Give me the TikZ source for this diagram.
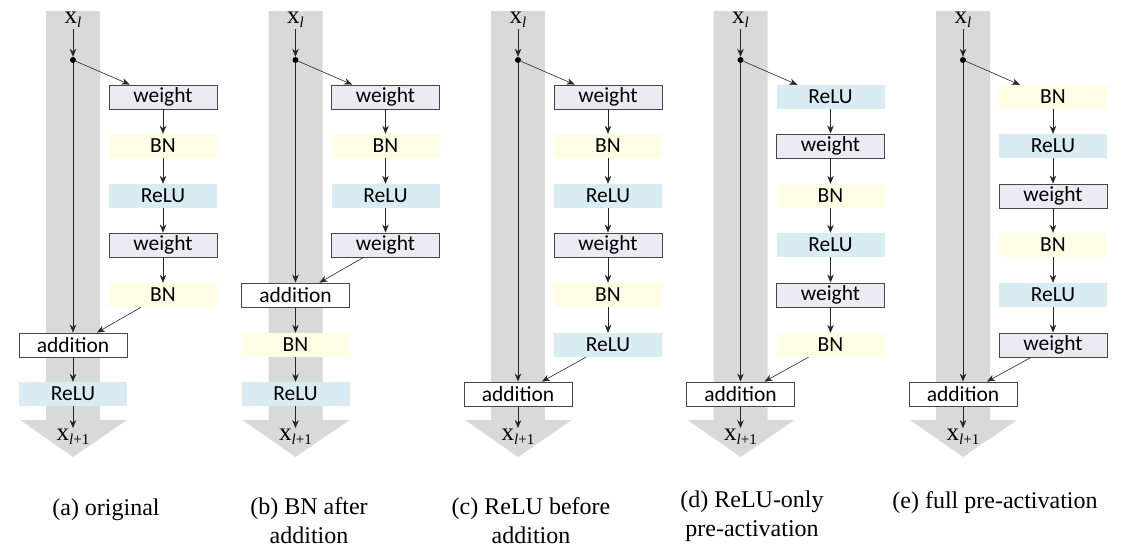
\documentclass[tikz,border=0pt]{standalone}
\usepackage{fontspec}
\setmainfont{Liberation Serif}
\newfontfamily\carlitofam{Carlito}
\usetikzlibrary{arrows.meta,calc}
\definecolor{bandcol}{RGB}{217,217,217}
\definecolor{wfill}{RGB}{236,234,242}
\definecolor{bnfill}{RGB}{255,253,228}
\definecolor{relufill}{RGB}{218,236,243}
\definecolor{edgecol}{RGB}{70,70,70}
\newcommand\boxfont{\carlitofam\fontsize{21.5}{23}\selectfont}
\newcommand\xl{{\fontsize{25}{25}\selectfont x\raisebox{-4pt}{\fontsize{15}{15}\selectfont\itshape l}}}
\newcommand\xlp{{\fontsize{25}{25}\selectfont x\raisebox{-4pt}{\fontsize{15}{15}\selectfont\itshape l\upshape+1}}}
\tikzset{
 blk/.style={minimum width=108pt, minimum height=24pt, inner sep=0pt, font=\boxfont},
 wt/.style={blk, draw=edgecol, fill=wfill, line width=0.9pt},
 bnb/.style={blk, fill=bnfill},
 rl/.style={blk, fill=relufill},
 addb/.style={blk, draw=edgecol, fill=white, line width=0.9pt},
 lbl/.style={inner sep=1pt},
 dotn/.style={circle, fill=black, inner sep=0pt, minimum size=6pt},
 arr/.style={-{Stealth[length=8pt,width=6.5pt]}, line width=0.6pt, draw=black!85},
 captxt/.style={font=\fontsize{24}{29}\selectfont, align=center, inner sep=0pt},
}
\newcommand\band{\fill[bandcol] (46,11) -- (100,11) -- (100,420) -- (127,420) -- (73,457) -- (20,420) -- (46,420) -- cycle;}
\begin{document}
\begin{tikzpicture}[x=1pt,y=-1pt]
\useasboundingbox (0,0) rectangle (1132,554);
% ---------- (a)
\begin{scope}[xshift=0pt]
\band
\node[lbl] (a-x) at (73,20) {\xl};
\node[dotn] (a-d) at (73,60) {};
\node[wt] (a-1) at (163,97) {weight};
\node[bnb] (a-2) at (163,146) {BN};
\node[rl] (a-3) at (163,196) {ReLU};
\node[wt] (a-4) at (163,245) {weight};
\node[bnb] (a-5) at (163,295) {BN};
\node[addb] (a-add) at (73,345) {addition};
\node[rl] (a-r) at (73,394) {ReLU};
\node[lbl] (a-y) at (73,437) {\xlp};
\draw[arr] (a-x) -- (a-d);
\draw[arr] (a-d) -- ($(a-1.north west)+(21,0)$);
\draw[arr] (a-1) -- (a-2);
\draw[arr] (a-2) -- (a-3);
\draw[arr] (a-3) -- (a-4);
\draw[arr] (a-4) -- (a-5);
\draw[arr] (a-d) -- (a-add);
\draw[arr] ($(a-5.south)+(-22,0)$) -- ($(a-add.north)+(24,0)$);
\draw[arr] (a-add) -- (a-r);
\draw[arr] (a-r) -- (a-y);
\end{scope}
% ---------- (b)
\begin{scope}[xshift=222.5pt]
\band
\node[lbl] (b-x) at (73,20) {\xl};
\node[dotn] (b-d) at (73,60) {};
\node[wt] (b-1) at (163,97) {weight};
\node[bnb] (b-2) at (163,146) {BN};
\node[rl] (b-3) at (163,196) {ReLU};
\node[wt] (b-4) at (163,245) {weight};
\node[addb] (b-add) at (73,295) {addition};
\node[bnb] (b-b) at (73,345) {BN};
\node[rl] (b-r) at (73,394) {ReLU};
\node[lbl] (b-y) at (73,437) {\xlp};
\draw[arr] (b-x) -- (b-d);
\draw[arr] (b-d) -- ($(b-1.north west)+(21,0)$);
\draw[arr] (b-1) -- (b-2);
\draw[arr] (b-2) -- (b-3);
\draw[arr] (b-3) -- (b-4);
\draw[arr] (b-d) -- (b-add);
\draw[arr] ($(b-4.south)+(-22,0)$) -- ($(b-add.north)+(24,0)$);
\draw[arr] (b-add) -- (b-b);
\draw[arr] (b-b) -- (b-r);
\draw[arr] (b-r) -- (b-y);
\end{scope}
% ---------- (c)
\begin{scope}[xshift=445pt]
\band
\node[lbl] (c-x) at (73,20) {\xl};
\node[dotn] (c-d) at (73,60) {};
\node[wt] (c-1) at (163,97) {weight};
\node[bnb] (c-2) at (163,146) {BN};
\node[rl] (c-3) at (163,196) {ReLU};
\node[wt] (c-4) at (163,245) {weight};
\node[bnb] (c-5) at (163,295) {BN};
\node[rl] (c-6) at (163,345) {ReLU};
\node[addb] (c-add) at (73,394) {addition};
\node[lbl] (c-y) at (73,437) {\xlp};
\draw[arr] (c-x) -- (c-d);
\draw[arr] (c-d) -- ($(c-1.north west)+(21,0)$);
\draw[arr] (c-1) -- (c-2);
\draw[arr] (c-2) -- (c-3);
\draw[arr] (c-3) -- (c-4);
\draw[arr] (c-4) -- (c-5);
\draw[arr] (c-5) -- (c-6);
\draw[arr] (c-d) -- (c-add);
\draw[arr] ($(c-6.south)+(-22,0)$) -- ($(c-add.north)+(24,0)$);
\draw[arr] (c-add) -- (c-y);
\end{scope}
% ---------- (d)
\begin{scope}[xshift=667.5pt]
\band
\node[lbl] (d-x) at (73,20) {\xl};
\node[dotn] (d-d) at (73,60) {};
\node[rl] (d-1) at (163,97) {ReLU};
\node[wt] (d-2) at (163,146) {weight};
\node[bnb] (d-3) at (163,196) {BN};
\node[rl] (d-4) at (163,245) {ReLU};
\node[wt] (d-5) at (163,295) {weight};
\node[bnb] (d-6) at (163,345) {BN};
\node[addb] (d-add) at (73,394) {addition};
\node[lbl] (d-y) at (73,437) {\xlp};
\draw[arr] (d-x) -- (d-d);
\draw[arr] (d-d) -- ($(d-1.north west)+(21,0)$);
\draw[arr] (d-1) -- (d-2);
\draw[arr] (d-2) -- (d-3);
\draw[arr] (d-3) -- (d-4);
\draw[arr] (d-4) -- (d-5);
\draw[arr] (d-5) -- (d-6);
\draw[arr] (d-d) -- (d-add);
\draw[arr] ($(d-6.south)+(-22,0)$) -- ($(d-add.north)+(24,0)$);
\draw[arr] (d-add) -- (d-y);
\end{scope}
% ---------- (e)
\begin{scope}[xshift=890pt]
\band
\node[lbl] (e-x) at (73,20) {\xl};
\node[dotn] (e-d) at (73,60) {};
\node[bnb] (e-1) at (163,97) {BN};
\node[rl] (e-2) at (163,146) {ReLU};
\node[wt] (e-3) at (163,196) {weight};
\node[bnb] (e-4) at (163,245) {BN};
\node[rl] (e-5) at (163,295) {ReLU};
\node[wt] (e-6) at (163,345) {weight};
\node[addb] (e-add) at (73,394) {addition};
\node[lbl] (e-y) at (73,437) {\xlp};
\draw[arr] (e-x) -- (e-d);
\draw[arr] (e-d) -- ($(e-1.north west)+(21,0)$);
\draw[arr] (e-1) -- (e-2);
\draw[arr] (e-2) -- (e-3);
\draw[arr] (e-3) -- (e-4);
\draw[arr] (e-4) -- (e-5);
\draw[arr] (e-5) -- (e-6);
\draw[arr] (e-d) -- (e-add);
\draw[arr] ($(e-6.south)+(-22,0)$) -- ($(e-add.north)+(24,0)$);
\draw[arr] (e-add) -- (e-y);
\end{scope}
% ---------- captions
\node[captxt] (capa) at (106,510) {(a) original};
\node[captxt] (capb) at (309,521) {(b) BN after\\addition};
\node[captxt] (capc) at (531,521) {(c) ReLU before\\addition};
\node[captxt] (capd) at (752,516) {(d) ReLU-only\\pre-activation};
\node[captxt] (cape) at (995,503) {(e) full pre-activation};
\end{tikzpicture}
\end{document}
